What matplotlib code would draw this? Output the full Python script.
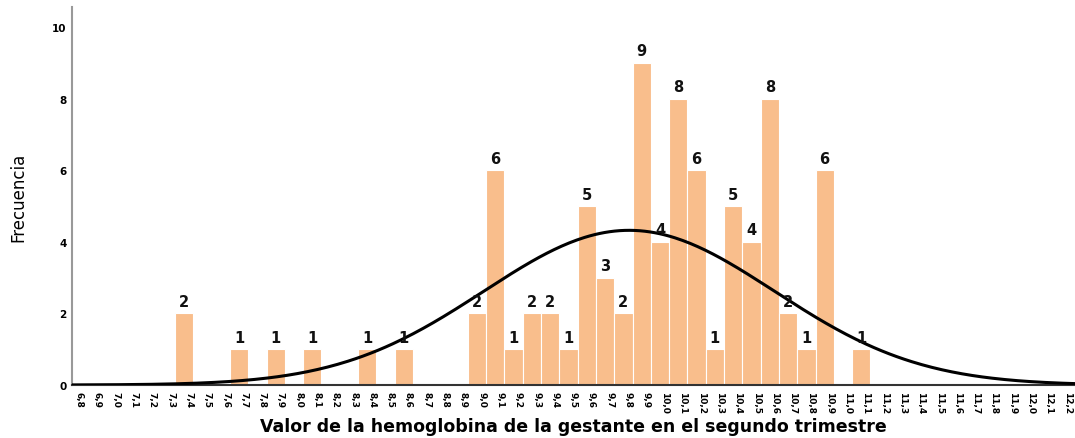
import numpy as np
import matplotlib
matplotlib.use("Agg")
import matplotlib.pyplot as plt

# Hemoglobin values (g/dL, bins of 0.1) and their frequencies
hb_values = [7.3, 7.6, 7.8, 8.0, 8.3, 8.5, 8.9, 9.0, 9.1, 9.2, 9.3, 9.4, 9.5,
             9.6, 9.7, 9.8, 9.9, 10.0, 10.1, 10.2, 10.3, 10.4, 10.5, 10.6,
             10.7, 10.8, 11.0]
frequencies = [2, 1, 1, 1, 1, 1, 2, 6, 1, 2, 2, 1, 5,
               3, 2, 9, 4, 8, 6, 1, 5, 4, 8, 2,
               1, 6, 1]
tick_values = [round(6.8 + 0.1 * i, 1) for i in range(55)]
tick_labels = [f"{v:.1f}".replace(".", ",") for v in tick_values]
y_ticks = [0, 2, 4, 6, 8, 10]

bin_width = 0.1
bar_color = "#F9BE8C"

fig = plt.figure(figsize=(10.75, 4.39), dpi=100)
ax = fig.add_axes([0.067, 0.1207, 0.933, 0.8613])

ax.bar(hb_values, frequencies, width=bin_width, align="edge",
       color=bar_color, edgecolor="white", linewidth=0.8, zorder=2)

for v, f in zip(hb_values, frequencies):
    ax.text(v + bin_width / 2, f + 0.12, str(f), ha="center", va="bottom",
            fontsize=10.5, fontweight="bold", color="#111111", zorder=4)

# Normal curve fitted to the data, scaled to counts per bin
vals = np.repeat(hb_values, frequencies)
mu, sd = vals.mean(), vals.std(ddof=1)
n = len(vals)
xs = np.linspace(6.73, 12.22, 400)
ys = n * bin_width / (sd * np.sqrt(2 * np.pi)) * np.exp(-0.5 * ((xs - mu) / sd) ** 2)
ax.plot(xs, ys, color="black", lw=2.2, zorder=3)

ax.set_xlim(6.737, 12.218)
ax.set_ylim(0, 10.56)
ax.set_xticks(tick_values)
ax.set_xticklabels(tick_labels, rotation=-90, ha="right",
                   fontsize=6.5, fontweight="bold")
ax.set_yticks(y_ticks)
ax.set_yticklabels([str(t) for t in y_ticks], fontsize=7.5, fontweight="bold")
ax.tick_params(axis="both", length=0, pad=4)

for s in ("top", "right"):
    ax.spines[s].set_visible(False)
ax.spines["left"].set_color("#999999")
ax.spines["left"].set_linewidth(1.5)
ax.spines["bottom"].set_color("#333333")
ax.spines["bottom"].set_linewidth(1.5)

ax.set_xlabel("Valor de la hemoglobina de la gestante en el segundo trimestre",
              fontsize=12.5, fontweight="bold", labelpad=3)
ax.set_ylabel("Frecuencia", fontsize=12, family="Liberation Sans Narrow",
              labelpad=18)

fig.savefig("out.png", dpi=100)
